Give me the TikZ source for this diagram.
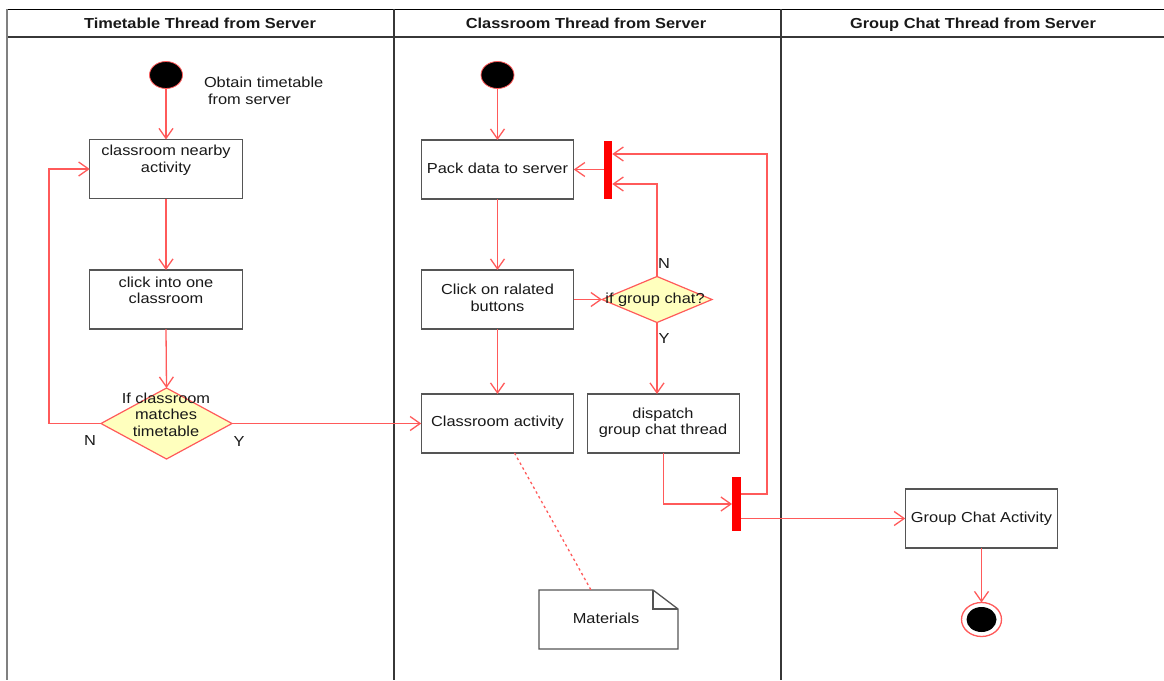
\documentclass[tikz,border=0pt]{standalone}
\usepackage{fontspec}
\setmainfont{Liberation Sans}[FakeStretch=1.13]
\usetikzlibrary{arrows.meta,shapes.geometric,calc}

\definecolor{lred}{RGB}{255,90,90}
\definecolor{boxgray}{RGB}{85,85,85}
\definecolor{lanegray}{RGB}{55,55,55}
\definecolor{dyellow}{RGB}{255,255,190}
\definecolor{txt}{RGB}{25,25,25}

\begin{document}
\begin{tikzpicture}[x=1pt,y=-1pt,
  every node/.style={text=txt, font=\fontsize{14.5}{16.5}\selectfont, inner sep=0pt, outer sep=0pt},
  sl/.style={text height=13pt, text depth=1.5pt},
  hdr/.style={sl, font=\bfseries\fontsize{14.5}{16.5}\selectfont},
  txtc/.style={align=center},
  actbox/.style={draw=boxgray, line width=1.3pt, fill=white, minimum width=152.5pt, minimum height=59pt},
  dec/.style={diamond, draw=lred, line width=1.2pt, fill=dyellow},
  bar/.style={fill=red, minimum width=8.5pt, minimum height=58pt},
  startnode/.style={ellipse, fill=black, draw=lred, line width=0.8pt, minimum width=33pt, minimum height=27pt},
  endring/.style={ellipse, draw=lred, line width=1.3pt, fill=white, minimum width=40pt, minimum height=34pt},
  enddot/.style={ellipse, fill=black, minimum width=30pt, minimum height=25pt},
  arr/.style={draw=lred, line width=1.3pt, -{Straight Barb[length=10pt,width=14pt]}},
  dotline/.style={draw=lred, line width=1.3pt, dash pattern=on 2.5pt off 3pt},
  lane/.style={draw=lanegray, line width=2pt}
]
\useasboundingbox (0,0) rectangle (1164,680);

% swimlane frame
\draw[draw=black, line width=1.5pt] (7,9.5) -- (1164,9.5);
\draw[draw=lanegray, line width=1.8pt] (7,37) -- (1164,37);
\draw[draw=gray, line width=2pt] (7,9) -- (7,680);
\draw[lane] (394,9) -- (394,680);
\draw[lane] (781,9) -- (781,680);

\node[hdr] (h1) at (200,23) {Timetable Thread from Server};
\node[hdr] (h2) at (586,23) {Classroom Thread from Server};
\node[hdr] (h3) at (973,23) {Group Chat Thread from Server};

% left lane
\node[startnode] (i1) at (166,75) {};
\node[anchor=west, align=left] (obt) at (204,91) {Obtain timetable\\\hspace{4pt}from server};
\node[actbox] (b1) at (166,169) {};
\node[txtc] (t1) at (166,160) {classroom nearby\\activity};
\node[actbox] (b2) at (166,299.5) {};
\node[txtc] (t2) at (166,290.5) {click into one\\classroom};
\node[dec, minimum width=131pt, minimum height=71pt] (d1) at (166.5,423.5) {};
\node[txtc] (t3) at (166,414.5) {If classroom\\matches\\timetable};
\node[sl] (n1) at (90,440) {N};
\node[sl] (y1) at (239,441) {Y};
\coordinate (c1) at (49,423.5);

% middle lane
\node[startnode] (i2) at (497.5,75) {};
\node[actbox] (b3) at (497.5,169.5) {};
\node[sl] (t4) at (497.5,168) {Pack data to server};
\node[actbox] (b4) at (497.5,299.5) {};
\node[txtc] (t5) at (497.5,298) {Click on ralated\\buttons};
\node[actbox] (b5) at (497.5,423.5) {};
\node[sl] (t6) at (497.5,421) {Classroom activity};
\node[dec, minimum width=110pt, minimum height=46pt] (d2) at (657,299.5) {};
\node[sl] (t7) at (655,298) {if group chat?};
\node[sl] (n2) at (664,263) {N};
\node[sl] (y2) at (664,338) {Y};
\node[bar] (bar1) at (608,169.5) {};
\node[actbox] (b6) at (663.5,423.5) {};
\node[txtc] (t8) at (663,422.5) {dispatch\\group chat thread};
\node[bar, minimum width=9pt, minimum height=54pt] (bar2) at (736.5,504) {};
\coordinate (c2) at (767,494);
\coordinate (c3) at (767,154);
\node[minimum width=139pt, minimum height=59pt] (note) at (608.5,619.5) {};

% right lane
\node[actbox] (b7) at (981.5,518.5) {};
\node[sl] (t10) at (981.5,517) {Group Chat Activity};
\node[endring] (fin) at (981.5,619.5) {};
\node[enddot] (fdot) at (981.5,619.5) {};

% note outline
\draw[draw=boxgray, line width=1.3pt, fill=white]
  (note.north west) -- ($(note.north east)+(-25,0)$) -- ($(note.north east)+(0,19)$)
  -- (note.south east) -- (note.south west) -- cycle;
\draw[draw=boxgray, line width=1.3pt]
  ($(note.north east)+(-25,0)$) -- ($(note.north east)+(-25,19)$) -- ($(note.north east)+(0,19)$);
\node[sl] (t9) at (606,618) {Materials};

% connectors left
\draw[arr] (i1.south) -- (b1.north);
\draw[arr] (b1.south) -- (b2.north);
\draw[arr] (b2.south) -- (d1.north);
\draw[arr] (d1.west) -- (c1) |- (b1.west);
\draw[arr] (d1.east) -- (b5.west);

% connectors middle
\draw[arr] (i2.south) -- (b3.north);
\draw[arr] (b3.south) -- (b4.north);
\draw[arr] (b4.south) -- (b5.north);
\draw[arr] (b4.east) -- (d2.west);
\draw[arr] (d2.north) |- ($(bar1.east)+(0,14.5)$);
\draw[arr] (bar1.west) -- (b3.east);
\draw[arr] (d2.south) -- (d2.south |- b6.north);
\draw[arr] (b6.south) |- (bar2.west);
\draw[arr] (bar2.east |- c2) -- (c2) -- (c3) -- (bar1.east |- c3);
\draw[arr] (bar2.east |- b7.west) -- (b7.west);
\draw[dotline] ($(b5.south)+(17,0)$) -- ($(note.north)+(-17.5,0)$);

% right
\draw[arr] (b7.south) -- (fin.north);
\end{tikzpicture}
\end{document}
